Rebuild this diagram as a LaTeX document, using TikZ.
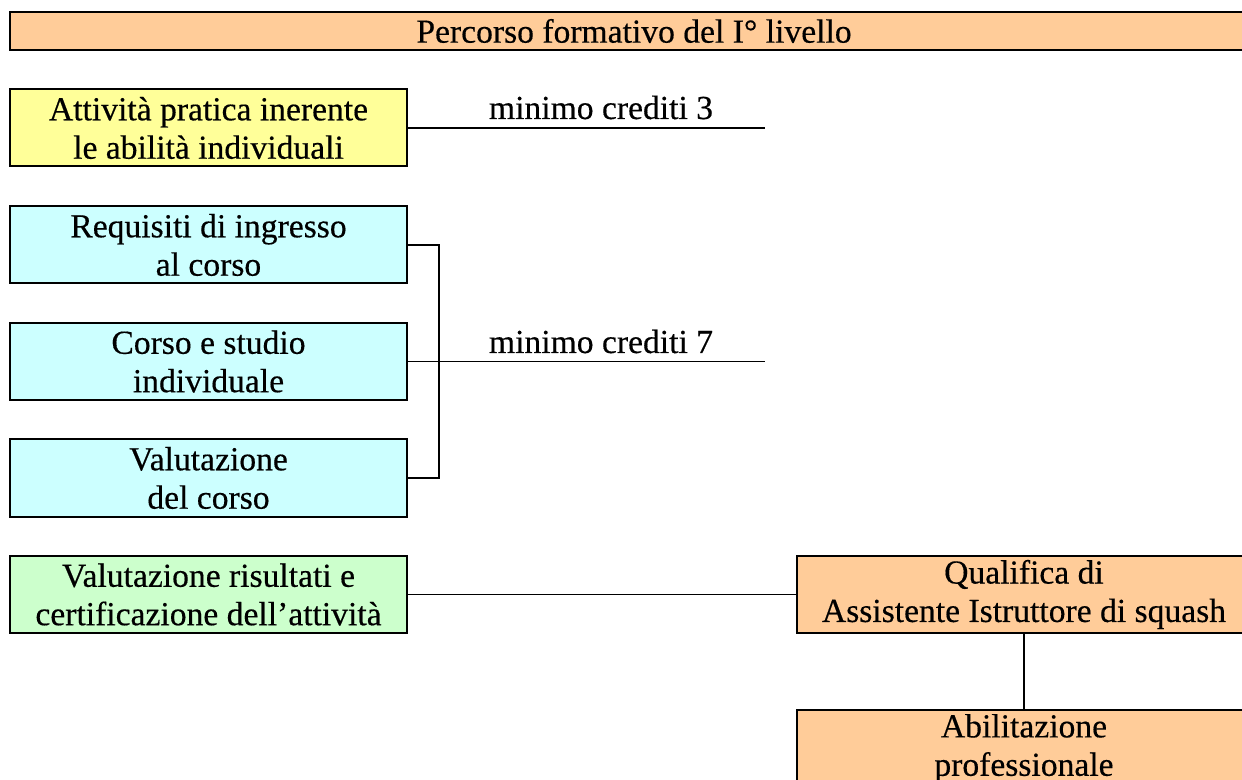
\documentclass[tikz,border=0pt]{standalone}
\usepackage{fontspec}
\setmainfont[FakeBold=0.4]{Liberation Serif}
\usetikzlibrary{positioning}
\definecolor{arancio}{HTML}{FFCC99}
\definecolor{giallo}{HTML}{FFFF99}
\definecolor{azzurro}{HTML}{CCFFFF}
\definecolor{verde}{HTML}{CCFFCC}
\tikzset{
  box/.style     = {draw, line width=1pt, minimum width=198.5pt, minimum height=38.5pt,
                    align=center, inner sep=0pt, font=\fontsize{16.8}{19.2}\selectfont},
  wide/.style    = {box, minimum width=227pt},
  link/.style    = {line width=0.8pt},
  crediti/.style = {anchor=base, inner sep=0pt, font=\fontsize{16.8}{19.2}\selectfont}
}

\begin{document}
\begin{tikzpicture}[x=0.5pt, y=-0.5pt]
      \useasboundingbox (0,0) rectangle (1242,780);
      \clip (0,0) rectangle (1242,780);
      \node[box, fill=arancio, minimum width=624pt, minimum height=19pt] (titolo) at (634,31) {\raisebox{-1pt}{Percorso formativo del I° livello}};
      \node[box, fill=giallo] (pratica) at (208.5,128) {Attività pratica inerente\\le abilità individuali};
      \node[box, fill=azzurro] (requisiti) at (208.5,245) {Requisiti di ingresso\\al corso};
      \node[box, fill=azzurro] (corso) at (208.5,361.5) {Corso e studio\\individuale};
      \node[box, fill=azzurro] (valcorso) at (208.5,478) {Valutazione\\del corso};
      \node[box, fill=verde] (certif) at (208.5,594.5) {Valutazione risultati e\\certificazione dell’attività};
      \node[wide, fill=arancio] (qualifica) at (1024,594.5) {Qualifica di\\Assistente Istruttore di squash};
      \node[wide, fill=arancio] (abilit) at (1024,748.5) {Abilitazione\\professionale};
      % credits lines
      \coordinate (fine3) at (765,128);
      \coordinate (fine7) at (765,361.5);
      \draw[link] (pratica.east) -- (fine3);
      \node[crediti] (cred3) at (601,119) {minimo crediti 3};
      \draw[link] (requisiti.east) -- ++(31,0) |- (valcorso.east);
      \draw[link] (corso.east) -- (fine7);
      \node[crediti] (cred7) at (601,353) {minimo crediti 7};
      \draw[link] (certif.east) -- (qualifica.west);
      \draw[link] (qualifica.south) -- (abilit.north);
\end{tikzpicture}
\end{document}
